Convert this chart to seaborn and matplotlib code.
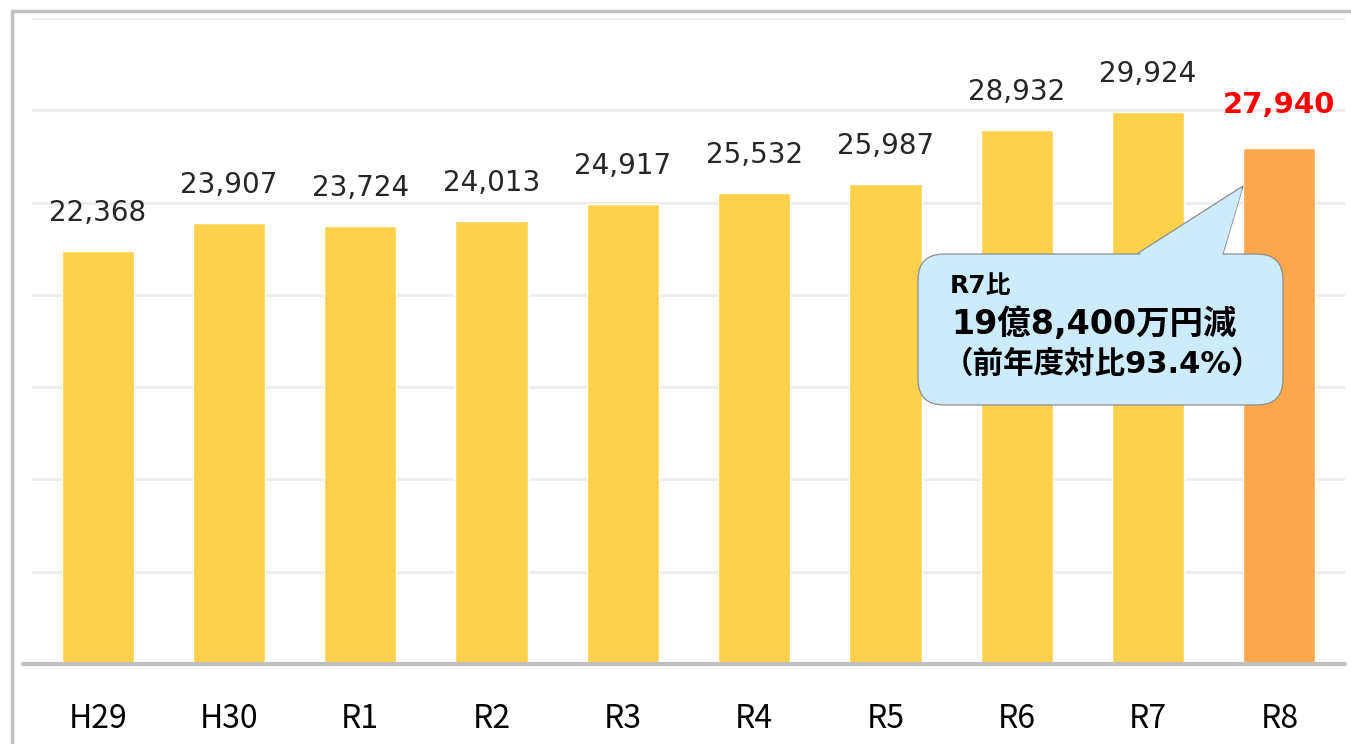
import seaborn as sns
import matplotlib.pyplot as plt
import matplotlib.transforms as mtransforms
from matplotlib.patches import FancyBboxPatch, Polygon
from matplotlib.lines import Line2D

# data
years = ["H29", "H30", "R1", "R2", "R3", "R4", "R5", "R6", "R7", "R8"]
amounts = [22368, 23907, 23724, 24013, 24917, 25532, 25987, 28932, 29924, 27940]
bar_colors = ["#FDD14B"] * 9 + ["#FBA84D"]

sns.set_style("white")
plt.rcParams["font.family"] = ["Noto Sans CJK JP", "DejaVu Sans"]
mixed = ["DejaVu Sans", "Noto Sans CJK JP"]

W, H = 1351, 744
fig = plt.figure(figsize=(W / 100, H / 100), dpi=100)
ax = fig.add_axes([32 / W, (H - 664) / H, 1313 / W, 646 / H])

sns.barplot(x=years, y=amounts, hue=years, palette=bar_colors, legend=False,
            width=0.55, saturation=1, ax=ax, zorder=3)

ax.set_xlim(-0.5, 9.5)
ax.set_ylim(0, 35000)
ax.set_yticks(range(5000, 35001, 5000))
ax.yaxis.grid(True, color="#EDEDED", linewidth=2)
ax.set_axisbelow(True)
ax.set_yticklabels([])
ax.tick_params(axis="y", length=0)
ax.tick_params(axis="x", length=0, pad=28, labelsize=23, labelcolor="#000000")
for s in ax.spines.values():
    s.set_visible(False)
ax.set_xlabel("")
ax.set_ylabel("")
ax.axhline(0, xmin=-0.007, xmax=1.0, color="#BFBFBF", linewidth=3, clip_on=False, zorder=4)

# value labels
for i, v in enumerate(amounts):
    if i == len(amounts) - 1:
        ax.annotate(f"{v:,}", (i, v), xytext=(0, 35), textcoords="offset pixels",
                    ha="center", va="baseline", fontsize=21, fontweight="bold",
                    color="#FF0000", family="DejaVu Sans")
    else:
        ax.annotate(f"{v:,}", (i, v), xytext=(0, 30), textcoords="offset pixels",
                    ha="center", va="baseline", fontsize=20, color="#262626",
                    family="DejaVu Sans")

# callout (pixel coordinates, y measured from top)
px = mtransforms.IdentityTransform()
def P(x, y):
    return (x, H - y)

face = "#CDEBFB"
edge = "#8C8C8C"
tail = [P(1132, 257), P(1243, 186), P(1222, 257)]
fig.add_artist(Polygon(tail, closed=True, facecolor=face, edgecolor=edge,
                       linewidth=0.9, transform=px, zorder=5))
bx0, by0 = P(918, 405)
fig.add_artist(FancyBboxPatch((bx0 + 26, by0 + 26), 365 - 52, 151 - 52,
                              boxstyle="round,pad=26", facecolor=face, edgecolor=edge,
                              linewidth=0.9, transform=px, zorder=6))
fig.add_artist(Polygon([P(1133, 259), P(1242, 189), P(1221, 259)], closed=True,
                       facecolor=face, edgecolor="none", transform=px, zorder=7))

fig.text(*P(950, 293), "R7比", transform=px, ha="left", va="baseline",
         fontsize=18, fontweight="bold", color="#000000", family=mixed, zorder=8)
fig.text(*P(951, 334), "19億8,400万円減", transform=px, ha="left", va="baseline",
         fontsize=24, fontweight="bold", color="#000000", family=mixed, zorder=8)
fig.text(*P(943, 373), "（前年度対比93.4%）", transform=px, ha="left", va="baseline",
         fontsize=22, fontweight="bold", color="#000000", family=mixed, zorder=8)

# outer frame
fig.add_artist(Line2D([12 / W, 12 / W], [0, (H - 11) / H], color="#C0C0C0", linewidth=2.5,
                      transform=fig.transFigure))
fig.add_artist(Line2D([12 / W, 1], [(H - 11) / H, (H - 11) / H], color="#C0C0C0", linewidth=2.5,
                      transform=fig.transFigure))

fig.savefig("out.png", dpi=100)
